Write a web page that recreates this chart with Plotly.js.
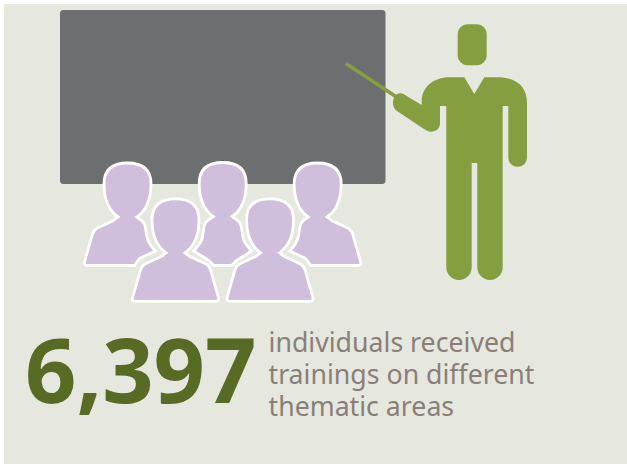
<!DOCTYPE html>
<html>
<head>
<meta charset="utf-8">
<style>html,body{margin:0;padding:0;background:#fff;overflow:hidden}</style>
<script src="https://cdn.plot.ly/plotly-3.0.1.min.js"></script>
</head>
<body>
<div id="chart" style="width:627px;height:464px"></div>
<script>
var headlineValue = ["6,397"];
var captionLines = ["individuals received", "trainings on different", "thematic areas"];

var BG = "#e6e7df", BOARD = "#6d6e70", GREEN = "#859e3f", LILAC = "#cfbfdd",
    NUM = "#586b25", CAP = "#8a7f78";

function rrect(x0, y0, x1, y1, r) {
  var k = r * 0.45;
  return "M" + (x0 + r) + "," + y0 + " L" + (x1 - r) + "," + y0 +
    " C" + (x1 - k) + "," + y0 + " " + x1 + "," + (y0 + k) + " " + x1 + "," + (y0 + r) +
    " L" + x1 + "," + (y1 - r) +
    " C" + x1 + "," + (y1 - k) + " " + (x1 - k) + "," + y1 + " " + (x1 - r) + "," + y1 +
    " L" + (x0 + r) + "," + y1 +
    " C" + (x0 + k) + "," + y1 + " " + x0 + "," + (y1 - k) + " " + x0 + "," + (y1 - r) +
    " L" + x0 + "," + (y0 + r) +
    " C" + x0 + "," + (y0 + k) + " " + (x0 + k) + "," + y0 + " " + (x0 + r) + "," + y0 + " Z";
}

// silhouette parts, local coordinates relative to head centre / head top
var HEAD = "C -18,48 -23.5,38 -23.5,21 C -23.5,6 -14,0 0,0 C 14,0 23.5,6 23.5,21 C 23.5,38 18,48 9.5,54";
var LEFT_FULL = "M -40,102.5 C -42.5,102.5 -43.5,101 -43,99 L -35,71 C -34,67.5 -33,66.5 -30,65 L -14,57.5 C -12,56 -11,55 -9.5,54";
var RIGHT_FULL = "C 11,55 12,56 14,57.5 L 30,65 C 33,66.5 34,67.5 35,71 L 43,99 C 43.5,101 42.5,102.5 40,102.5 Z";

function local(str, cx, y0, mirror) {
  return str.replace(/(-?[\d.]+),(-?[\d.]+)/g, function (m, a, b) {
    return ((mirror ? -1 : 1) * parseFloat(a) + cx).toFixed(2) + "," + (parseFloat(b) + y0).toFixed(2);
  });
}
var CUT_SIDE = "C 11,55 13,56 16,59.5 C 18,62 18,66 19,72 C 20,78 24,84 28,88 L 13,95 C 10,97 8.5,100 7,102.5";
function backSide() {
  return LEFT_FULL + " " + HEAD + " " + CUT_SIDE + " Z";
}
var CENTER_BACK = "M -9.5,54 " + HEAD + " C 11,55 14,57 17,60 C 19,63 19,68 20.5,76 C 22,81 26,85 29,88.5 L 17,96 C 13,98 11,101 9,103 L -9,103 C -11,101 -13,98 -17,96 L -29,88.5 C -26,85 -22,81 -20.5,76 C -19,68 -19,63 -17,60 C -14,57 -11,55 -9.5,54 Z";

var panel = {type: "rect", x0: 4, x1: 627, y0: 4, y1: 464, fillcolor: BG, line: {width: 0}, layer: "below"};
var shapes = [panel];
shapes.push({type: "path", path: rrect(60, 10, 385.5, 184, 3), fillcolor: BOARD, line: {width: 0}, layer: "below"});

function person(path) {
  shapes.push({type: "path", path: path, fillcolor: LILAC, line: {color: "#ffffff", width: 2.8}, layer: "below"});
}
person(local(backSide(), 127.5, 163, false));
person(local(CENTER_BACK, 222.7, 162.5, false));
person(local(backSide(), 317.7, 163, true));
var frontPath = LEFT_FULL + " " + HEAD + " " + RIGHT_FULL;
person(local(frontPath, 175.5, 198.8, false));
person(local(frontPath, 270, 198.8, false));

// pointer
shapes.push({type: "line", x0: 346, y0: 63.5, x1: 398, y1: 98, line: {color: GREEN, width: 3.6}, layer: "below"});
// trainer head
shapes.push({type: "path", path: rrect(457.7, 24.3, 486.7, 65.3, 10), fillcolor: GREEN, line: {width: 0}, layer: "below"});
// trainer body
var trainer = "M 464.3,77.3 L 474.3,94 L 484.3,77.3 L 497,77.3 C 516,77.3 527,86 527,103 L 527,157 " +
  "C 527,162.5 523.5,166.7 517.7,166.7 C 512,166.7 508.3,162.5 508.3,157 L 508.3,106 L 502.7,106 L 502.7,267 " +
  "C 502.7,274.5 497,280 490,280 C 483,280 477.3,274.5 477.3,267 L 477.3,163 L 471.7,163 L 471.7,267 " +
  "C 471.7,274.5 466,280 459,280 C 452,280 446.3,274.5 446.3,267 L 446.3,106 L 440,106 L 440,123 " +
  "C 440,128.5 436,131.7 431,131.7 C 428.5,131.7 426.5,130.5 424,129 L 397,111 " +
  "C 393.5,108.5 393,105 393,102 C 393.5,96.5 397,93.3 400,93.3 C 402,93.3 404,94 405,95 L 421.7,105 " +
  "L 421.7,101 C 422,88 432,77.3 450,77.3 Z";
shapes.push({type: "path", path: trainer, fillcolor: GREEN, line: {width: 0}, layer: "below"});

var captionY = [345.5, 377.5, 409.5];
var traces = [
  {type: "scatter", mode: "text", x: [25], y: [380], text: headlineValue, textposition: "middle right",
   textfont: {family: "'Noto Sans', sans-serif", size: 90, color: NUM, weight: 700}, cliponaxis: false, hoverinfo: "skip"},
  {type: "scatter", mode: "text", x: [268.5, 268.5, 268.5], y: captionY, text: captionLines, textposition: "middle right",
   textfont: {family: "'Noto Sans', sans-serif", size: 26.7, color: CAP}, cliponaxis: false, hoverinfo: "skip"}
];

Plotly.newPlot("chart", traces, {
  width: 627, height: 464, margin: {l: 0, r: 0, t: 0, b: 0, pad: 0},
  paper_bgcolor: "#ffffff", plot_bgcolor: "rgba(0,0,0,0)", showlegend: false,
  xaxis: {range: [0, 627], visible: false, fixedrange: true},
  yaxis: {range: [464, 0], visible: false, fixedrange: true},
  shapes: shapes
}, {displayModeBar: false, staticPlot: true});
</script>
</body>
</html>
